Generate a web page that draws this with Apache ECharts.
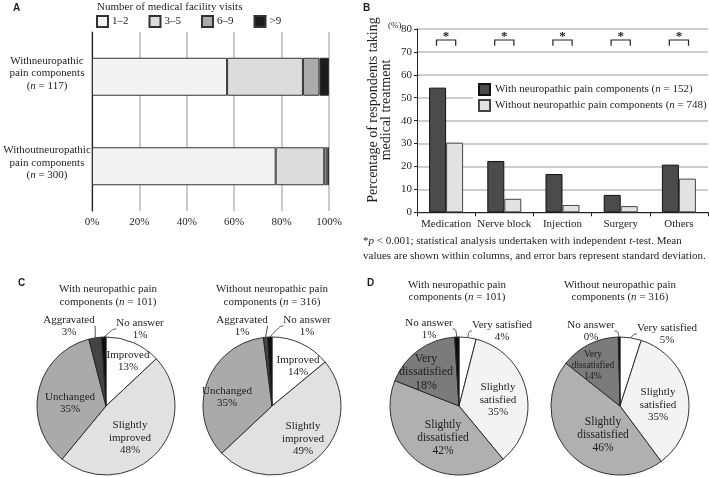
<!DOCTYPE html>
<html><head><meta charset="utf-8">
<script src="https://cdn.jsdelivr.net/npm/echarts@6/dist/echarts.min.js"></script>
<style>html,body{margin:0;padding:0;background:#fff}#c{width:709px;height:477px}</style>
</head><body><div id="c"></div>
<script>
// ---------- Panel A data ----------
const visitGroups = ['Withneuropathic\npain components', 'Withoutneuropathic\npain components'];
const visitN = [117, 300];
const visitBands = ['1–2', '3–5', '6–9', '>9'];
const visits1to2 = [57, 77.5];
const visits3to5 = [32, 20.5];
const visits6to9 = [7, 1.3];
const visitsOver9 = [4, 0.7];
const visitTickStep = 20;

// ---------- Panel B data ----------
const treatments = ['Medication', 'Nerve block', 'Injection', 'Surgery', 'Others'];
const treatWith = [54.4, 22.4, 16.7, 7.6, 20.8];
const treatWithout = [30.4, 5.9, 3.2, 2.7, 14.7];
const treatGroups = ['With neuropathic pain components', 'Without neuropathic pain components'];
const treatN = [152, 748];
const significance = ['*', '*', '*', '*', '*'];
const treatTickStep = 10;

// ---------- Panel C data ----------
const changeNames = ['Improved', 'Slightly\nimproved', 'Unchanged', 'Aggravated', 'No answer'];
const changeWith = [13, 48, 35, 3, 1];
const changeWithout = [14, 49, 35, 1, 1];

// ---------- Panel D data ----------
const satisfactionNames = ['Very satisfied', 'Slightly\nsatisfied', 'Slightly\ndissatisfied', 'Very\ndissatisfied', 'No answer'];
const satisfactionWith = [4, 35, 42, 18, 1];
const satisfactionWithout = [5, 35, 46, 14, 0.4];
const pieN = [101, 316];

// ---------- styles / layout ----------
const SERIF = '"Liberation Serif", "Times New Roman", serif';
const SANS = '"Liberation Sans", Arial, sans-serif';
const INK = '#1e1e1e';
const visitColors = ['#f3f3f3', '#dcdcdc', '#ababab', '#1c1c1c'];
const treatColors = ['#4b4b4b', '#e2e2e2'];
const treatBorders = ['#111', '#444'];
const changeColors = ['#ffffff', '#e1e1e1', '#aaaaaa', '#444444', '#0d0d0d'];
const satColors = ['#ffffff', '#f3f3f3', '#b0b0b0', '#7b7b7b', '#0d0d0d'];
const BRACKET = {top: 75.2, bottom: 72.7, half: 0.165};
const PIES = [
  {center: [106, 406], labels: [[128, 361], [130, 438], [70, 403], [69, 326], [140, 329]], outside: [3, 4], sizes: [11, 11, 11, 11, 11]},
  {center: [272, 406], labels: [[298, 366], [303, 439], [227, 397], [242, 326], [307, 326]], outside: [3, 4], sizes: [11, 11, 11, 11, 11]},
  {center: [459, 406], labels: [[502, 331], [498, 400], [443, 438], [426, 372], [429, 329]], outside: [0, 4], sizes: [11, 11, 11.5, 12, 11]},
  {center: [620, 406], labels: [[667, 334], [658, 405], [603, 435], [593, 365], [591, 331]], outside: [0, 4], sizes: [11, 11, 11.5, 9.5, 11]}
];
const PIE_R = 69;
const italic = {fontStyle: 'italic', fontFamily: SERIF, fontSize: 11, fill: INK, color: INK};

function pieSeries(names, values, colors, cfg) {
  return {
    type: 'pie', center: cfg.center, radius: PIE_R, startAngle: 90, clockwise: true,
    silent: true, avoidLabelOverlap: false, animation: false,
    itemStyle: {borderColor: '#222', borderWidth: 0.9},
    label: {show: true, position: 'inside', color: INK, fontFamily: SERIF, fontSize: 11, lineHeight: 12.5,
      formatter: p => p.name + '\n' + Math.round(p.value) + '%'},
    labelLine: {show: false},
    labelLayout: p => ({x: cfg.labels[p.dataIndex][0], y: cfg.labels[p.dataIndex][1], align: 'center', verticalAlign: 'middle'}),
    data: values.map((v, i) => {
      const out = cfg.outside.indexOf(i) >= 0;
      return {
        value: v, name: names[i], itemStyle: {color: colors[i]},
        label: {position: out ? 'outside' : 'inside', fontSize: cfg.sizes[i], lineHeight: cfg.sizes[i] + 1.5},
        labelLine: {show: out, length: 3, length2: 3, smooth: 0.4, lineStyle: {color: '#222', width: 0.8}}
      };
    })
  };
}

function gtext(x, y, text, o) {
  o = o || {};
  const size = o.size || 11;
  return {
    type: 'text', x: x, y: y, rotation: o.rotation || 0, silent: true,
    style: {
      text: text, fontFamily: o.family || SERIF, fontSize: size, fontWeight: o.weight || 'normal',
      fill: INK, align: o.align || 'left', verticalAlign: 'middle',
      textAlign: o.align || 'left', textVerticalAlign: 'middle', lineHeight: o.lh || 13,
      rich: {i: Object.assign({}, italic, {fontSize: size})}
    }
  };
}

const option = {
  animation: false,
  backgroundColor: '#fff',
  grid: [
    {left: 92, top: 32, width: 237, height: 179},
    {left: 417, top: 29, width: 291, height: 183.3}
  ],
  xAxis: [
    {type: 'value', gridIndex: 0, min: 0, max: 100, interval: visitTickStep,
      axisLine: {show: false}, axisTick: {show: false},
      axisLabel: {formatter: '{value}%', margin: 6, fontFamily: SERIF, fontSize: 11, color: INK},
      splitLine: {show: true, lineStyle: {color: '#bdbdbd', width: 1.6}}},
    {type: 'category', gridIndex: 1, data: treatments, boundaryGap: true,
      axisLine: {show: true, lineStyle: {color: '#222', width: 1}},
      axisTick: {show: true, length: 4, lineStyle: {color: '#222'}},
      axisLabel: {margin: 6, fontFamily: SERIF, fontSize: 11, color: INK, interval: 0}}
  ],
  yAxis: [
    {type: 'category', gridIndex: 0, data: visitGroups, inverse: true,
      axisLine: {show: true, lineStyle: {color: '#222', width: 1.2}}, axisTick: {show: false},
      axisLabel: {margin: 45, align: 'center', fontFamily: SERIF, fontSize: 11, color: INK, lineHeight: 12.5,
        padding: [0, 0, 7, 0],
        formatter: (v, i) => v + '\n({i|n} = ' + visitN[i] + ')',
        rich: {i: Object.assign({}, italic, {lineHeight: 12.5})}}},
    {type: 'value', gridIndex: 1, min: 0, max: 80, interval: treatTickStep,
      axisLine: {show: true, lineStyle: {color: '#222', width: 1}},
      axisTick: {show: true, length: 3, lineStyle: {color: '#222'}},
      axisLabel: {margin: 5, fontFamily: SERIF, fontSize: 11, color: INK},
      splitLine: {show: true, lineStyle: {color: '#bdbdbd', width: 1.5}}}
  ],
  legend: [
    {data: visitBands, left: 91, top: 15, padding: [0, 5], itemWidth: 11, itemHeight: 11, itemGap: 20, icon: 'rect',
      textStyle: {fontFamily: SERIF, fontSize: 11, color: INK, padding: [0, 0, 0, -1]}, selectedMode: false},
    {data: treatGroups, orient: 'vertical', left: 473, top: 81, padding: [2, 5], itemGap: 3, itemWidth: 11, itemHeight: 11,
      icon: 'rect', backgroundColor: '#fff', selectedMode: false,
      formatter: name => name + ' ({i|n} = ' + treatN[treatGroups.indexOf(name)] + ')',
      textStyle: {fontFamily: SERIF, fontSize: 11, color: INK, rich: {i: italic}}}
  ],
  series: [
    ...[visits1to2, visits3to5, visits6to9, visitsOver9].map((d, k) => ({
      type: 'bar', name: visitBands[k], stack: 'visits', xAxisIndex: 0, yAxisIndex: 0, barWidth: 38,
      data: d, silent: true,
      itemStyle: {color: visitColors[k], borderColor: '#333', borderWidth: 1}
    })),
    ...[treatWith, treatWithout].map((d, k) => ({
      type: 'bar', name: treatGroups[k], xAxisIndex: 1, yAxisIndex: 1, barWidth: 17, barGap: '0%',
      data: d, silent: true,
      itemStyle: {color: treatColors[k], borderColor: treatBorders[k], borderWidth: 1}
    })),
    {
      type: 'custom', xAxisIndex: 1, yAxisIndex: 1, silent: true, z: 5,
      data: significance.map((s, i) => [i, BRACKET.top]),
      renderItem: (params, api) => {
        const i = api.value(0);
        const t = api.coord([i, BRACKET.top]);
        const b = api.coord([i, BRACKET.bottom]);
        const w = api.size([1, 0])[0] * BRACKET.half;
        return {type: 'group', children: [
          {type: 'polyline', shape: {points: [[t[0] - w, b[1]], [t[0] - w, t[1]], [t[0] + w, t[1]], [t[0] + w, b[1]]]},
            style: {stroke: '#222', lineWidth: 1.2, fill: null}},
          {type: 'text', x: t[0], y: t[1] - 3, style: {text: significance[i], fontFamily: SERIF, fontSize: 13, fontWeight: 'bold', fill: INK,
            align: 'center', verticalAlign: 'middle', textAlign: 'center', textVerticalAlign: 'middle'}}
        ]};
      }
    },
    pieSeries(changeNames, changeWith, changeColors, PIES[0]),
    pieSeries(changeNames, changeWithout, changeColors, PIES[1]),
    pieSeries(satisfactionNames, satisfactionWith, satColors, PIES[2]),
    pieSeries(satisfactionNames, satisfactionWithout, satColors, PIES[3])
  ],
  graphic: [
    gtext(13, 8, 'A', {family: SANS, weight: 'bold', size: 10}),
    gtext(363, 8, 'B', {family: SANS, weight: 'bold', size: 10}),
    gtext(18, 283, 'C', {family: SANS, weight: 'bold', size: 10}),
    gtext(367, 283, 'D', {family: SANS, weight: 'bold', size: 10}),
    gtext(97, 7, 'Number of medical facility visits'),
    gtext(388, 26, '(%)', {size: 9}),
    gtext(380, 110, 'Percentage of respondents taking\nmedical treatment', {size: 14, lh: 12.5, align: 'center', rotation: Math.PI / 2}),
    gtext(363, 241, '*{i|p} < 0.001; statistical analysis undertaken with independent {i|t}-test. Mean'),
    gtext(363, 256, 'values are shown within columns, and error bars represent standard deviation.'),
    gtext(108, 289, 'With neuropathic pain', {align: 'center'}),
    gtext(108, 302, 'components ({i|n} = ' + pieN[0] + ')', {align: 'center'}),
    gtext(272, 289, 'Without neuropathic pain', {align: 'center'}),
    gtext(272, 302, 'components ({i|n} = ' + pieN[1] + ')', {align: 'center'}),
    gtext(457, 285, 'With neuropathic pain', {align: 'center'}),
    gtext(457, 297, 'components ({i|n} = ' + pieN[0] + ')', {align: 'center'}),
    gtext(620, 285, 'Without neuropathic pain', {align: 'center'}),
    gtext(620, 297, 'components ({i|n} = ' + pieN[1] + ')', {align: 'center'})
  ]
};

const chart = echarts.init(document.getElementById('c'), null, {renderer: 'canvas', width: 709, height: 477});
chart.setOption(option);
</script>
</body></html>
